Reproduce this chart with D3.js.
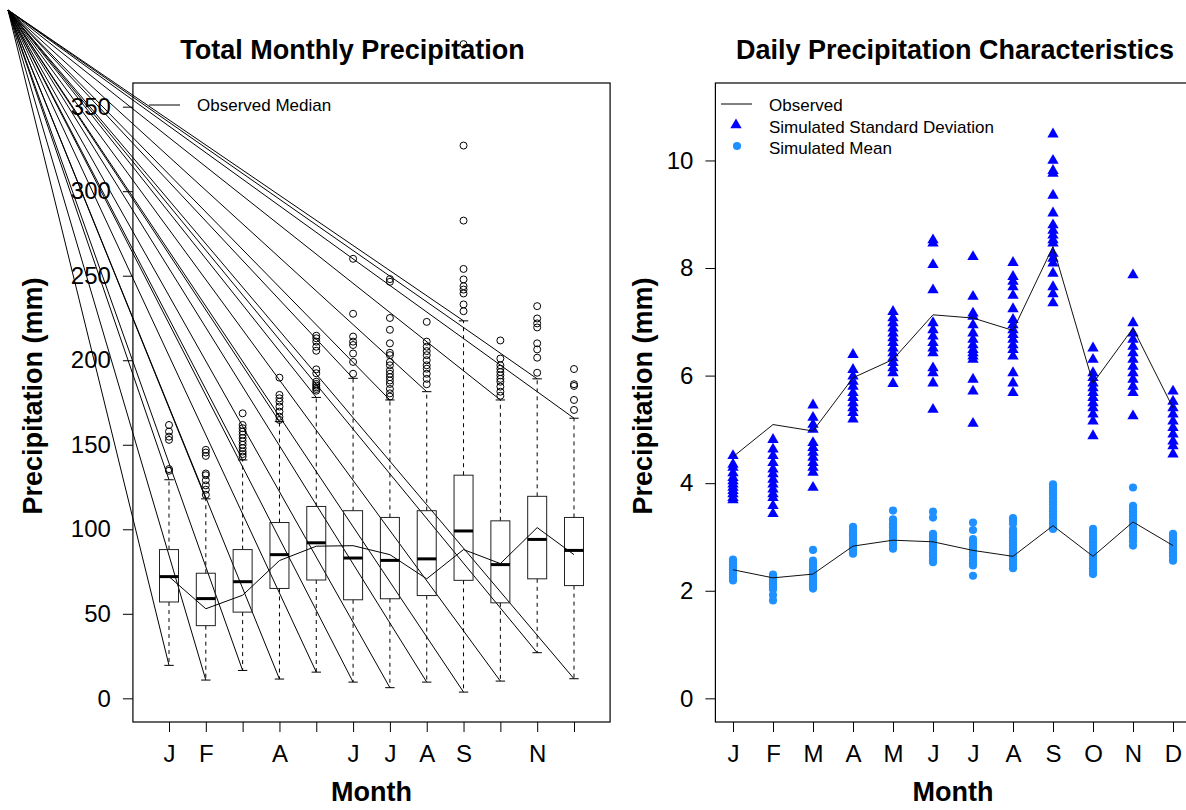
<!DOCTYPE html>
<html><head><meta charset="utf-8">
<script src="https://cdn.jsdelivr.net/npm/d3@7"></script>
<style>
body{margin:0;background:#fff}
svg{display:block;font-family:"Liberation Sans",Arial,Helvetica,sans-serif}
</style>
</head><body>
<svg id="c" width="1186" height="810"></svg>
<script>
// ---------------- data ----------------
const monthIdx = [1,2,3,4,5,6,7,8,9,10,11,12];
const leftTickLabels  = ["J","F","","A","","J","J","A","S","","N",""];
const rightTickLabels = ["J","F","M","A","M","J","J","A","S","O","N","D"];
const leftYTicks  = [0,50,100,150,200,250,300,350];
const rightYTicks = [0,2,4,6,8,10];

// Total monthly precipitation boxplot statistics (mm)
const lowerWhisker = [19.5,10.8,16.5,11.4,15.5,9.6,6.3,9.6,3.7,10.2,27,11.6];
const q1Values     = [57,43,51,65,70,58.3,58.9,60.8,69.8,56.5,70.7,66.7];
const medianValues = [72,59,69,85,92,83,81.6,82.5,99,79.1,94,87.5];
const q3Values     = [88,74,88,104,113.5,111,107,111,132,105,119.5,107];
const upperWhisker = [129.3,118,141,163.7,178,189.3,176.5,181.4,223.3,176.5,189,165.7];
const outliers = [
  [161.7,157.8,154.8,152.9,135.6,134.6],
  [147,145.4,143.4,133,132,129,126,123.4,120.4],
  [168.6,161.7,159.8,157.8,156,154,152,150,148,146,144.5,143],
  [189.7,179.5,177.5,175.5,172.6,169.6,166.6,164.7],
  [214.5,213,211,208,205.6,194.6,192.3,187.3,186,185,184,183,182],
  [260,227.5,214,211,209,204,199,192],
  [248,246.4,225,218,210,204.4,203,199,197,194,192,190,188,186,183,180.4,178.5],
  [222.7,211,208,205.4,203,200,197,195,192,189,185.8],
  [387,327,282.6,254,247.8,243.8,241.8,239.5,233,229],
  [211.7,201,197,195,193,191,189,187.3,184.4,181.4,179],
  [232,224.7,221.8,219.4,210,206.4,201.5,192.6],
  [194.8,185.8,184.8,176.5,170.6]
];
const observedMedian = [72,53,61,81.5,90,90.3,85,70.7,88,79.7,101,85];

// Daily precipitation characteristics (mm)
const observedSD   = [4.49,5.09,4.97,5.96,6.30,7.13,7.07,6.84,8.40,5.86,6.88,5.40];
const observedMean = [2.39,2.24,2.31,2.83,2.94,2.91,2.75,2.64,3.21,2.64,3.28,2.84];
const simulatedSD = [
  [4.51,4.35,4.29,4.19,4.10,4.04,3.98,3.92,3.86,3.80,3.73,3.69],
  [4.81,4.63,4.51,4.38,4.26,4.17,4.07,3.98,3.89,3.80,3.73,3.58,3.43],
  [5.45,5.22,5.09,5.00,4.75,4.66,4.57,4.48,4.38,4.29,4.20,3.92],
  [6.39,6.11,5.99,5.89,5.80,5.68,5.59,5.49,5.40,5.31,5.19],
  [7.19,7.07,6.98,6.88,6.79,6.70,6.61,6.51,6.42,6.33,6.24,6.14,6.05,5.85],
  [8.52,8.46,8.06,7.59,6.98,6.85,6.73,6.61,6.51,6.42,6.14,6.05,5.86,5.37],
  [8.21,7.47,7.16,7.10,6.94,6.79,6.67,6.57,6.48,6.42,6.36,6.30,5.93,5.71,5.11],
  [8.10,7.84,7.75,7.65,7.49,7.24,7.04,6.94,6.85,6.76,6.67,6.57,6.48,6.36,6.05,5.86,5.68],
  [10.49,10.0,9.81,9.76,9.35,9.02,8.80,8.70,8.61,8.52,8.46,8.27,8.18,8.09,7.90,7.65,7.52,7.35],
  [6.51,6.30,6.05,5.96,5.86,5.77,5.68,5.59,5.49,5.40,5.28,5.15,4.88],
  [7.87,6.98,6.79,6.67,6.54,6.42,6.30,6.17,6.05,5.93,5.80,5.68,5.25],
  [5.71,5.52,5.40,5.28,5.15,5.03,4.91,4.78,4.69,4.54]
];
const simulatedMean = [
  [2.58,2.55,2.52,2.49,2.46,2.43,2.40,2.37,2.34,2.31,2.28,2.25,2.22,2.19],
  [2.30,2.27,2.24,2.21,2.18,2.15,2.12,2.09,2.06,2.03,1.92,1.82],
  [2.76,2.56,2.52,2.48,2.44,2.40,2.36,2.32,2.28,2.24,2.20,2.16,2.12,2.08,2.04],
  [3.19,3.15,3.11,3.07,3.03,2.99,2.95,2.91,2.87,2.83,2.79,2.75,2.71,2.69],
  [3.49,3.33,3.28,3.23,3.18,3.13,3.08,3.03,2.98,2.93,2.88,2.83,2.78],
  [3.47,3.36,3.06,3.01,2.96,2.91,2.86,2.81,2.76,2.71,2.66,2.61,2.56,2.53],
  [3.27,3.13,2.96,2.91,2.86,2.81,2.76,2.71,2.66,2.61,2.56,2.51,2.47,2.28],
  [3.35,3.30,3.25,3.14,3.09,3.04,2.99,2.94,2.89,2.84,2.79,2.74,2.69,2.64,2.59,2.54,2.48,2.42],
  [3.98,3.93,3.88,3.83,3.78,3.72,3.66,3.60,3.54,3.48,3.42,3.36,3.30,3.24,3.18,3.15],
  [3.15,3.08,3.02,2.96,2.90,2.84,2.78,2.72,2.66,2.60,2.54,2.48,2.42,2.36,2.31],
  [3.92,3.58,3.53,3.48,3.43,3.38,3.33,3.28,3.23,3.18,3.13,3.08,3.03,2.98,2.92,2.84],
  [3.06,3.01,2.96,2.91,2.86,2.81,2.76,2.71,2.66,2.61,2.56]
];

// ---------------- drawing ----------------
const svg = d3.select("#c");
const FONT_TICK = 24, FONT_TITLE = 27, FONT_LEG = 17;
const SD_COLOR = "#0000FF", MEAN_COLOR = "#1E90FF";

const xL = d3.scaleLinear().domain([1,12]).range([169,574]);
const yL = d3.scaleLinear().domain([-14,364]).range([722,83]);
const xR = d3.scaleLinear().domain([1,12]).range([733,1173]);
const yR = d3.scaleLinear().domain([-0.44,11.44]).range([722,83]);

function styleAxis(g){
  g.select(".domain").remove();
  g.selectAll(".tick line").attr("stroke","#000");
  g.selectAll(".tick text").attr("fill","#000").style("font-size",FONT_TICK+"px");
}

// ---- left panel ----
const L = svg.append("g");
const lx0 = xL(0.02), lx1 = xL(12.98);

// artifact lines radiating from the corner to whisker ends
const apex = [8,10];
const whiskerEnds = [];
monthIdx.forEach((m,i)=>{ whiskerEnds.push([m,upperWhisker[i]]); whiskerEnds.push([m,lowerWhisker[i]]); });
L.append("g").selectAll("line").data(whiskerEnds).join("line")
  .attr("x1",apex[0]).attr("y1",apex[1])
  .attr("x2",d=>xL(d[0])).attr("y2",d=>yL(d[1]))
  .attr("stroke","#000").attr("stroke-width",1);

const bw = 9.5, cw = 4.7;
const bx = L.append("g").selectAll("g").data(monthIdx).join("g");
bx.append("line").attr("x1",d=>xL(d)).attr("x2",d=>xL(d))
  .attr("y1",(d,i)=>yL(q3Values[i])).attr("y2",(d,i)=>yL(upperWhisker[i]))
  .attr("stroke","#000").attr("stroke-dasharray","4,4");
bx.append("line").attr("x1",d=>xL(d)).attr("x2",d=>xL(d))
  .attr("y1",(d,i)=>yL(q1Values[i])).attr("y2",(d,i)=>yL(lowerWhisker[i]))
  .attr("stroke","#000").attr("stroke-dasharray","4,4");
bx.append("line").attr("x1",d=>xL(d)-cw).attr("x2",d=>xL(d)+cw)
  .attr("y1",(d,i)=>yL(upperWhisker[i])).attr("y2",(d,i)=>yL(upperWhisker[i])).attr("stroke","#000");
bx.append("line").attr("x1",d=>xL(d)-cw).attr("x2",d=>xL(d)+cw)
  .attr("y1",(d,i)=>yL(lowerWhisker[i])).attr("y2",(d,i)=>yL(lowerWhisker[i])).attr("stroke","#000");
bx.append("rect").attr("x",d=>xL(d)-bw).attr("width",bw*2)
  .attr("y",(d,i)=>yL(q3Values[i])).attr("height",(d,i)=>yL(q1Values[i])-yL(q3Values[i]))
  .attr("fill","none").attr("stroke","#222");
bx.append("line").attr("x1",d=>xL(d)-bw).attr("x2",d=>xL(d)+bw)
  .attr("y1",(d,i)=>yL(medianValues[i])).attr("y2",(d,i)=>yL(medianValues[i]))
  .attr("stroke","#000").attr("stroke-width",3);
bx.each(function(d,i){
  d3.select(this).selectAll("circle").data(outliers[i]).join("circle")
    .attr("cx",xL(d)).attr("cy",v=>yL(v)).attr("r",3.5)
    .attr("fill","none").attr("stroke","#000").attr("stroke-width",1);
});

L.append("path").datum(monthIdx)
  .attr("d",d3.line().x(d=>xL(d)).y((d,i)=>yL(observedMedian[i])))
  .attr("fill","none").attr("stroke","#000").attr("stroke-width",1);

L.append("rect").attr("x",lx0).attr("y",yL(364)).attr("width",lx1-lx0).attr("height",yL(-14)-yL(364))
  .attr("fill","none").attr("stroke","#000").attr("stroke-width",1.2);

L.append("g").attr("transform",`translate(${lx0},0)`)
  .call(d3.axisLeft(yL).tickValues(leftYTicks).tickSize(10).tickPadding(12).tickFormat(d3.format("d")))
  .call(styleAxis);
L.append("g").attr("transform",`translate(0,${yL(-14)})`)
  .call(d3.axisBottom(xL).tickValues(monthIdx).tickSize(10).tickPadding(13).tickFormat((d,i)=>leftTickLabels[i]))
  .call(styleAxis);

L.append("line").attr("x1",149).attr("x2",180).attr("y1",105).attr("y2",105).attr("stroke","#000");
L.append("text").attr("x",197).attr("y",105).attr("dominant-baseline","central")
  .style("font-size",FONT_LEG+"px").text("Observed Median");

L.append("text").attr("x",352.5).attr("y",59).attr("text-anchor","middle")
  .style("font-size",FONT_TITLE+"px").style("font-weight","bold").text("Total Monthly Precipitation");
L.append("text").attr("x",(lx0+lx1)/2).attr("y",801).attr("text-anchor","middle")
  .style("font-size",FONT_TITLE+"px").style("font-weight","bold").text("Month");
L.append("text").attr("transform","translate(42,396) rotate(-90)").attr("text-anchor","middle")
  .style("font-size",FONT_TITLE+"px").style("font-weight","bold").text("Precipitation (mm)");

// ---- right panel ----
const R = svg.append("g");
const rx0 = xR(0.56), rx1 = xR(12.44);

const tri = d3.symbol().type(d3.symbolTriangle).size(56);
const dot = d3.symbol().type(d3.symbolCircle).size(52);

monthIdx.forEach((m,i)=>{
  R.append("g").selectAll("path").data(simulatedSD[i]).join("path")
    .attr("d",tri).attr("transform",v=>`translate(${xR(m)},${yR(v)})`).attr("fill",SD_COLOR);
  R.append("g").selectAll("path").data(simulatedMean[i]).join("path")
    .attr("d",dot).attr("transform",v=>`translate(${xR(m)},${yR(v)})`).attr("fill",MEAN_COLOR);
});

R.append("path").datum(monthIdx)
  .attr("d",d3.line().x(d=>xR(d)).y((d,i)=>yR(observedSD[i])))
  .attr("fill","none").attr("stroke","#111").attr("stroke-width",1);
R.append("path").datum(monthIdx)
  .attr("d",d3.line().x(d=>xR(d)).y((d,i)=>yR(observedMean[i])))
  .attr("fill","none").attr("stroke","#111").attr("stroke-width",1);

R.append("rect").attr("x",rx0).attr("y",yR(11.44)).attr("width",rx1-rx0).attr("height",yR(-0.44)-yR(11.44))
  .attr("fill","none").attr("stroke","#000").attr("stroke-width",1.2);

R.append("g").attr("transform",`translate(${rx0},0)`)
  .call(d3.axisLeft(yR).tickValues(rightYTicks).tickSize(10).tickPadding(12).tickFormat(d3.format("d")))
  .call(styleAxis);
R.append("g").attr("transform",`translate(0,${yR(-0.44)})`)
  .call(d3.axisBottom(xR).tickValues(monthIdx).tickSize(10).tickPadding(13).tickFormat((d,i)=>rightTickLabels[i]))
  .call(styleAxis);

// legend
R.append("line").attr("x1",721).attr("x2",752).attr("y1",104).attr("y2",104).attr("stroke","#000");
R.append("text").attr("x",769).attr("y",105).attr("dominant-baseline","central").style("font-size",FONT_LEG+"px").text("Observed");
R.append("path").attr("d",tri).attr("transform","translate(736,125)").attr("fill",SD_COLOR);
R.append("text").attr("x",769).attr("y",127).attr("dominant-baseline","central").style("font-size",FONT_LEG+"px").text("Simulated Standard Deviation");
R.append("path").attr("d",dot).attr("transform","translate(737,146)").attr("fill",MEAN_COLOR);
R.append("text").attr("x",769).attr("y",148).attr("dominant-baseline","central").style("font-size",FONT_LEG+"px").text("Simulated Mean");

R.append("text").attr("x",955).attr("y",59).attr("text-anchor","middle")
  .style("font-size",FONT_TITLE+"px").style("font-weight","bold").text("Daily Precipitation Characteristics");
R.append("text").attr("x",(rx0+rx1)/2).attr("y",801).attr("text-anchor","middle")
  .style("font-size",FONT_TITLE+"px").style("font-weight","bold").text("Month");
R.append("text").attr("transform","translate(652,396) rotate(-90)").attr("text-anchor","middle")
  .style("font-size",FONT_TITLE+"px").style("font-weight","bold").text("Precipitation (mm)");
</script>
</body></html>
